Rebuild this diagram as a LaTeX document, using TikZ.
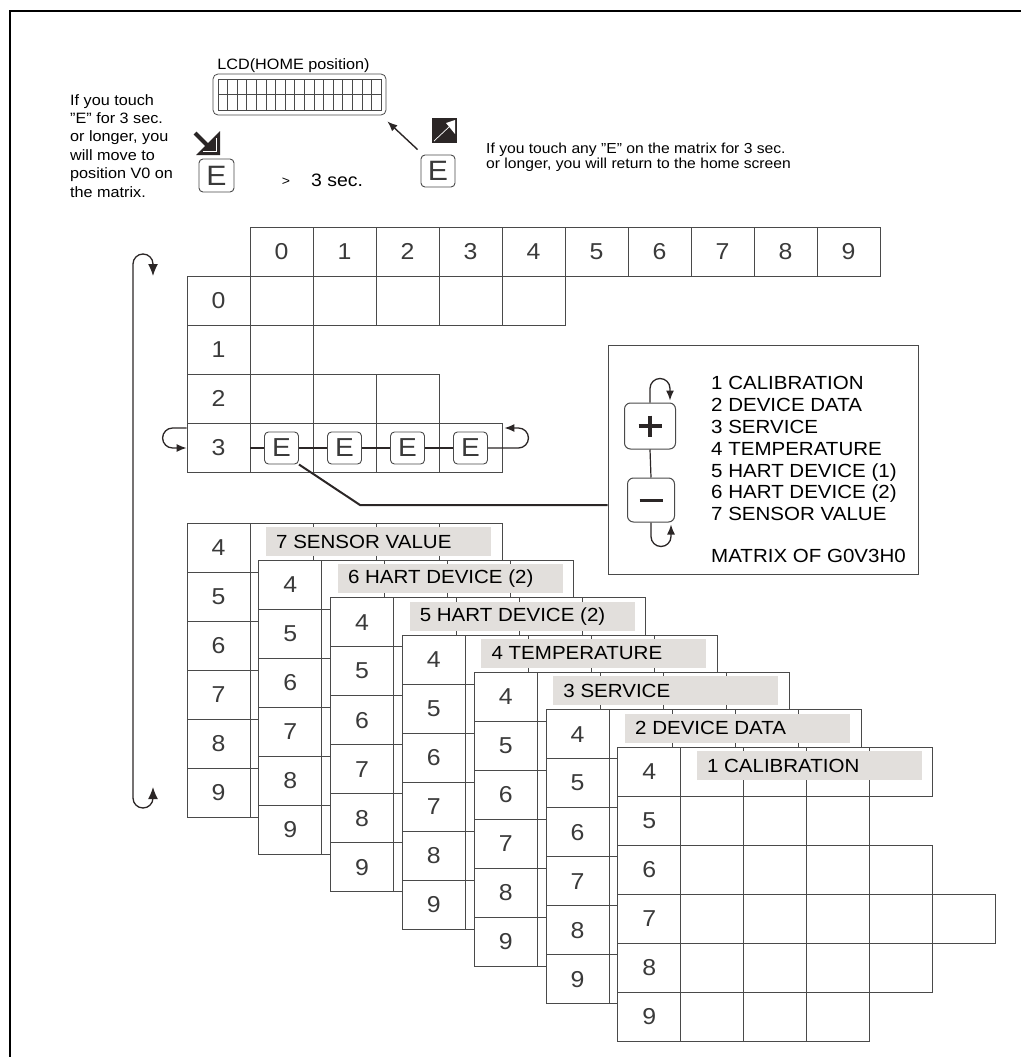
\documentclass[tikz,border=0pt]{standalone}
\usepackage{fontspec}
\setmainfont{Liberation Sans}[FakeStretch=1.08]
\usetikzlibrary{arrows.meta,positioning}
\definecolor{gridline}{HTML}{4A4A4A}
\definecolor{digit}{HTML}{3A3A3A}
\definecolor{darkline}{HTML}{2B2626}
\definecolor{bandgray}{HTML}{E2DFDC}
\newcommand{\fsz}[1]{\fontsize{#1}{#1}\selectfont}

\begin{document}
\begin{tikzpicture}[x=1pt, y=-1pt, >={Latex[length=10pt,width=8pt]},
    gridcell/.style={draw=gridline, fill=white, line width=0.8pt},
    rowlabel/.style={gridcell, minimum width=63pt, minimum height=49pt, inner sep=0pt, text=digit, font=\fsz{23}},
    ebtn/.style={draw=gridline, fill=white, line width=0.9pt, rounded corners=4pt, minimum width=34pt, minimum height=32pt, inner sep=0pt, text=digit, font=\fsz{26}},
    pmbtn/.style={draw=gridline, fill=white, line width=1pt, rounded corners=6pt, inner sep=0pt},
    loopline/.style={draw=darkline, line width=1.3pt, rounded corners=10pt},
    bandtext/.style={anchor=west, inner sep=0pt, font=\fsz{19}}]
  \useasboundingbox (0,0) rectangle (1021,1057);
  % frame
  \draw[line width=2.5pt] (10,1057) -- (10,11) -- (1021,11);

  % LCD and the two E keys
  \node[anchor=base, inner sep=0pt, font=\fsz{15}] (lcdtitle) at (293.5,70) {LCD(HOME position)};
  \node[draw=gridline, line width=0.8pt, rounded corners=5pt, minimum width=173pt, minimum height=41pt] (lcd) at (299.5,94.5) {};
  \draw[gridline, line width=0.6pt] (218,79) rectangle (381,110);
  \draw[gridline, line width=0.6pt] (218,94.5) -- (381,94.5);
  \foreach \k in {1,...,16}
    \draw[gridline, line width=0.6pt] (218+\k*9.588,79) -- (218+\k*9.588,110);

  \node[anchor=north west, inner sep=0pt, align=left, font=\fontsize{15}{18.4}\selectfont] (lefttext) at (70,94)
    {If you touch\\"E" for 3 sec.\\or longer, you\\will move to\\position V0 on\\the matrix.};
  % icon: move down into the matrix
  \fill[darkline] (220,131) -- (220,155) -- (196,155) -- cycle;
  \draw[darkline, line width=4pt] (195,133) -- (210,148);
  \draw[white, line width=0.6pt] (216,138) -- (216,151) -- (203,151);
  \node[ebtn, minimum width=35pt, minimum height=33pt, font=\fsz{28}] (eleft) at (216.5,175.5) {E};
  \node[anchor=base, inner sep=0pt, font=\fsz{13}] (gt) at (286,185) {>};
  \node[anchor=base west, inner sep=0pt, font=\fsz{18}] (sec) at (311,186) {3 sec.};

  % icon: back to home
  \fill[darkline] (432,118) rectangle (457,143);
  \fill[white] (455,120) -- (455,134) -- (446,123) -- cycle;
  \draw[white, line width=0.7pt] (434,141) -- (450,126);
  \node[ebtn, font=\fsz{28}] (eright) at (438,171) {E};
  \draw[->, darkline, line width=1.4pt] ([shift={(-3,-5)}]eright.north west) -- ([shift={(1,6)}]lcd.south east);
  \node[anchor=north west, inner sep=0pt, align=left, font=\fontsize{14.5}{15.5}\selectfont] (righttext) at (486,142.5)
    {If you touch any "E" on the matrix for 3 sec.\\or longer, you will return to the home screen};

  % matrix V0..V3
  \foreach \col in {0,...,9}
    \node[rowlabel] (h\col) at (281.5+63*\col,251.5) {\col};
  \foreach \row/\n in {0/4,1/0,2/2,3/3} {
    \node[rowlabel] (v\row) at (218.5,300.5+49*\row) {\row};
    \foreach \col in {0,...,\n}
      \draw[gridcell] (250+63*\col,276+49*\row) rectangle +(63,49);
  }
  \coordinate (r3w) at (250,448);
  \coordinate (r3e) at (487.5,448);
  \draw[darkline, line width=1.2pt] (r3w) -- (r3e);
  \foreach \k in {1,...,4}
    \node[ebtn] (E\k) at (281.5+63*\k-63,448) {E};
  \draw[loopline, ->] ([shift={(0,-19.5)}]v3.west) -- ++(-24,0) -- ++(0,20) -- ([shift={(0,0.5)}]v3.west);
  \draw[loopline, ->] (E4.east) -- ++(40.5,0) -- ++(0,-20) -- ++(-24,0);

  % long loop through the rows
  \coordinate (looptop) at (153,276);
  \coordinate (loopbot) at (153,787);
  \draw[loopline, {Latex[length=12pt,width=10pt]}-{Latex[length=12pt,width=10pt]}]
    (loopbot) -- (153,808) -- (133,808) -- (133,254) -- (153,254) -- (looptop);

  % selection box
  \node[draw=gridline, line width=1pt, minimum width=310pt, minimum height=229pt] (info) at (763,459.5) {};
  \node[pmbtn, minimum width=51pt, minimum height=46pt] (plus) at (650,426) {};
  \node[pmbtn, minimum width=47pt, minimum height=44pt] (minus) at (651,500) {};
  \draw[darkline, line width=1.2pt] (plus.south) -- (minus.north);
  \draw[darkline, line width=3.8pt] ([shift={(-11.5,0)}]plus.center) -- ([shift={(11.5,0)}]plus.center);
  \draw[darkline, line width=3.8pt] ([shift={(0,-10.5)}]plus.center) -- ([shift={(0,10.5)}]plus.center);
  \draw[darkline, line width=3.8pt] ([shift={(-11.5,0.5)}]minus.center) -- ([shift={(11.5,0.5)}]minus.center);
  \draw[loopline, ->] (plus.north) -- ++(0,-24) -- ++(20,0) -- ++(0,22);
  \draw[loopline, ->] (minus.south) -- ++(0,24) -- ++(20,0) -- ++(0,-22);
  \node[anchor=north west, inner sep=0pt, align=left, font=\fontsize{19}{21.8}\selectfont] (menu) at (711,376.4)
    {1 CALIBRATION\\2 DEVICE DATA\\3 SERVICE\\4 TEMPERATURE\\5 HART DEVICE (1)\\6 HART DEVICE (2)\\7 SENSOR VALUE};
  \node[anchor=base west, inner sep=0pt, font=\fsz{19}] (matrixof) at (711,562) {MATRIX OF G0V3H0};

  \coordinate (bend) at (360,505);
  \draw[darkline, line width=2pt] (E1.south east) -- (bend) -- (bend -| info.west);

  % stacked matrices V4..V9, back to front
  \foreach \txt [count=\i from 0] in {7 SENSOR VALUE, 6 HART DEVICE (2), 5 HART DEVICE (2), 4 TEMPERATURE, 3 SERVICE, 2 DEVICE DATA, 1 CALIBRATION} {
    \pgfmathsetmacro\xo{187+71.8*\i}
    \pgfmathsetmacro\yo{523+37.33*\i}
    \foreach \row/\n [count=\j from 0] in {4/3,5/2,6/3,7/4,8/3,9/2} {
      \node[rowlabel] (lab\i\row) at (\xo+31.5,\yo+24.5+49*\j) {\row};
      \foreach \col in {0,...,\n}
        \draw[gridcell] (\xo+63+63*\col,\yo+49*\j) rectangle +(63,49);
    }
    \fill[bandgray] (\xo+79,\yo+4) rectangle (\xo+304,\yo+33);
    \node[bandtext] (band\i) at (\xo+89,\yo+18.5) {\txt};
  }
\end{tikzpicture}
\end{document}
